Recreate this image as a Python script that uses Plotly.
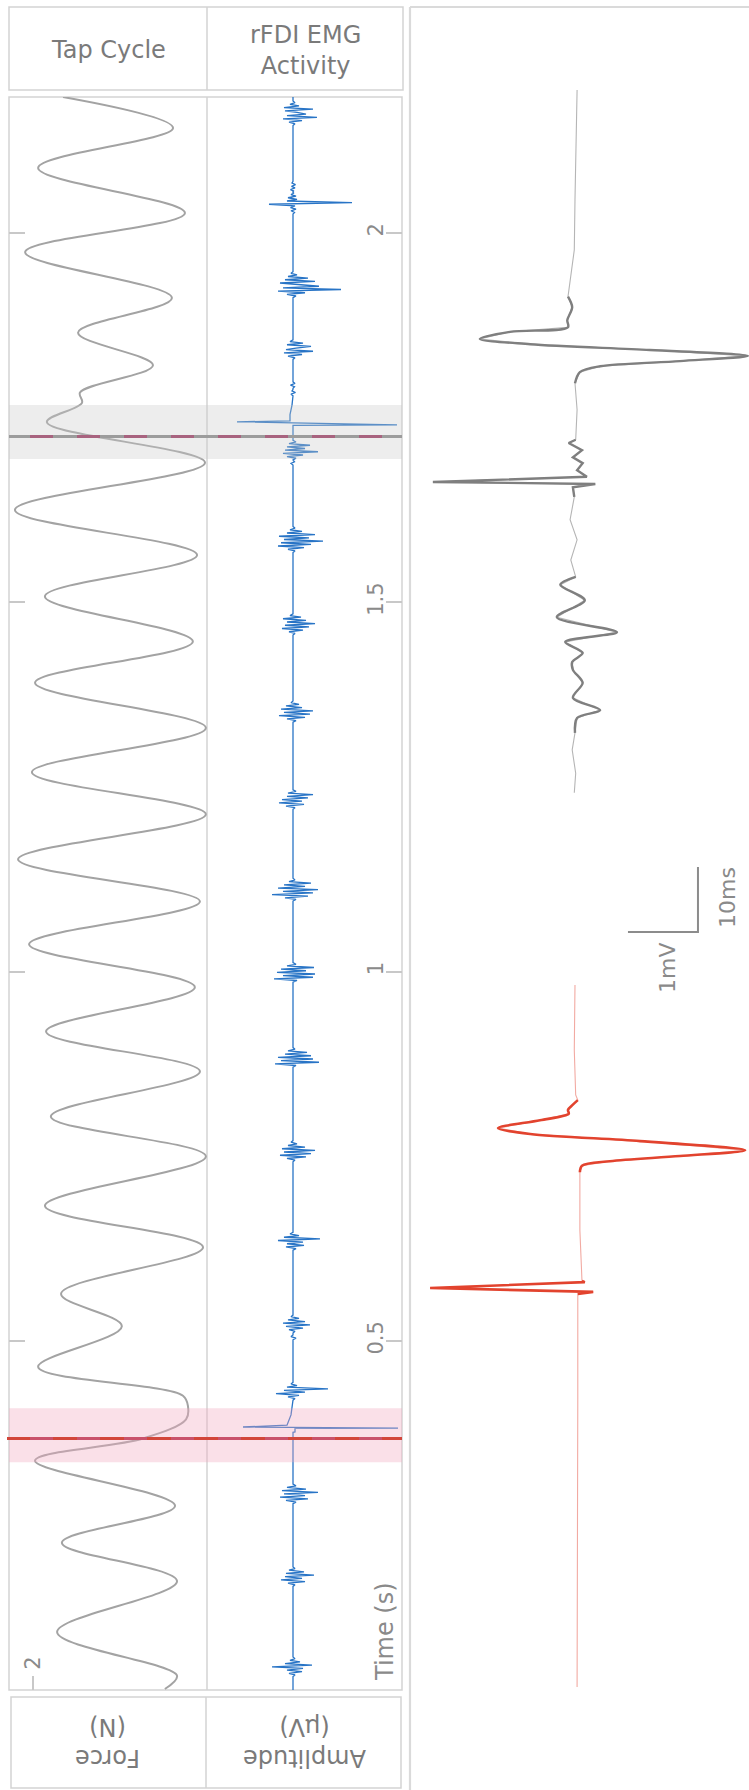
import plotly.graph_objects as go

W, H = 749, 1790

# ---------------- DATA ----------------
# Force trace (tap cycle): time (s), force (N) read at extrema / turning points
force_t = [2.184, 2.142, 2.088, 2.027, 1.974, 1.912, 1.865, 1.821, 1.784, 1.770,
           1.744, 1.689, 1.625, 1.564, 1.508, 1.447, 1.391, 1.330, 1.270, 1.213,
           1.152, 1.095, 1.037, 0.979, 0.919, 0.865, 0.804, 0.750, 0.683, 0.627,
           0.564, 0.520, 0.465, 0.426, 0.411, 0.394, 0.368, 0.338, 0.277, 0.227,
           0.175, 0.106, 0.047, 0.029]
force_n = [3.06, 6.95, 2.18, 7.37, 1.72, 6.91, 3.59, 6.24, 3.66, 3.73,
           2.49, 8.08, 1.36, 7.80, 2.42, 7.65, 2.07, 8.11, 1.96, 8.11,
           1.47, 7.90, 1.86, 7.72, 2.46, 7.90, 2.63, 8.11, 2.42, 8.01,
           2.99, 5.14, 2.18, 7.30, 7.48, 7.41, 5.89, 2.07, 7.02, 3.02,
           7.09, 2.85, 7.09, 6.66]

# EMG bursts: centre time (s) and amplitude samples (uV)
emg_dt = 0.0022
burst_centers = [2.162, 2.062, 2.041, 1.930, 1.842, 1.794, 1.784, 1.706, 1.689,
                 1.585, 1.470, 1.352, 1.233, 1.111, 0.999, 0.884, 0.757, 0.635,
                 0.523, 0.505, 0.432, 0.293, 0.181, 0.059]
burst_amps = [
    [20, -40, 90, -100, 240, -60, 130, 40, -80, 200, -90, 60, -30, 20],
    [10, -25, 20, -15, 25, -10],
    [15, -20, 30, -25, 20, -240, 590, -60, 40, -50, 30, -20, 10],
    [30, -60, 120, -150, 480, -100, 260, 60, -130, 220, -80, 150, -50, 40, -20],
    [20, -50, 90, -90, 200, -70, 30, 180, -60, 100, -30],
    [15, -25, 20],
    [-20, 25, -10],
    [30, -60, 100, -100, 250, -80, 120, -60, 170, -40, 30],
    [-20, 15],
    [20, -50, 110, -150, 180, -120, 300, -90, 160, -140, 220, -60, 90, -30, 20],
    [20, -40, 100, -110, 160, -80, 220, -60, 130, -100, 80, -30],
    [30, -60, 120, -140, 170, -90, 200, -120, 90, -70, 60, -20],
    [20, -70, 110, -140, 90, -110, 150, -60, 200, -50, 30],
    [30, -80, 150, -210, 200, -100, 250, -150, 120, -90, 180, -40, 20],
    [40, -190, 200, -100, 220, -160, 130, -120, 210, -60, 30],
    [30, -180, 260, -120, 200, -150, 180, -80, 140, -50, 20],
    [20, -60, 130, -130, 180, -90, 220, -110, 120, -50, 40, -20],
    [30, -70, 110, -60, 100, -150, 270, -90, 60, -30],
    [20, -40, 100, -70, 170, -100, 120, -50, 60, -20],
    [30, -20],
    [20, -50, 60, -170, 120, -90, 350, -60, 40, -20],
    [30, -70, 150, -130, 120, -90, 250, -110, 130, -60, 30],
    [20, -50, 120, -120, 90, -80, 210, -70, 110, -40, 20],
    [20, -40, 90, -60, 100, -210, 190, -80, 70, -30, 20],
]
# TMS stimulus artefacts in the EMG (time s, amplitude uV)
artifact_t = [1.7670, 1.7540, 1.7455, 1.7443, 1.7403, 1.7395,
              0.4000, 0.3860, 0.3836, 0.3822, 0.3818, 0.3770, 0.3765]
artifact_v = [-10, -30, -30, -560, 1040, 0,
              -20, -60, -500, 1050, 20, 20, 0]

# Stimulus times (s) and highlighted windows (s)
stim_times = [1.7245, 0.368]
stim_band_lo = [1.694, 0.336]
stim_band_hi = [1.767, 0.409]

# MEPs: time re. stimulus (ms), amplitude (mV)
mep_gray_t = [60.3, 51.1, 43.4, 35.7, 28.5, 26.9, 24.9, 23.8, 23.1, 22.0, 21.2, 20.3,
              19.4, 18.6, 17.8, 16.9, 15.2, 11.1, 6.5, 6.0, 4.9, 3.8, 2.9, 1.8, 0.8,
              0.0, -0.3, -0.8, -2.3, -5.8, -8.9, -12.0, -14.6, -15.8, -18.2, -20.8,
              -23.1, -24.6, -26.3, -27.7, -28.9, -30.9, -33.2, -35.1, -36.3, -38.6,
              -41.2, -44.8, -47.8]
mep_gray_v = [0.03, 0.01, 0.0, -0.01, -0.10, -0.04, -0.11, -0.10, -0.93, -1.36, -0.64, 1.07,
              2.47, 1.50, 0.36, 0.07, 0.0, 0.03, 0.01, -0.09, 0.10, -0.03, 0.11, 0.03, 0.17,
              -2.03, 0.29, -0.03, -0.01, -0.07, 0.03, -0.06, 0.01, -0.21, 0.14, -0.26,
              0.60, -0.14, 0.11, -0.04, -0.03, 0.11, -0.03, 0.36, 0.03, 0.0,
              -0.04, 0.01, -0.01]
mep_red_t = [46.6, 36.6, 29.7, 28.9, 28.2, 27.4, 26.8, 25.8, 24.6, 23.7, 22.6, 21.2,
             20.3, 19.5, 18.8, 17.8, 8.9, 1.1, 0.9, 0.0, -0.6, -0.9, -17.2, -40.3, -61.4]
mep_red_v = [0.0, -0.01, 0.01, 0.04, -0.03, -0.10, -0.09, -0.50, -1.10, -0.64, 0.93, 2.43,
             1.50, 0.50, 0.10, 0.07, 0.07, 0.10, 0.14, -2.07, 0.26, 0.04, 0.04, 0.03, 0.03]
scale_ms = 10
scale_mv = 1

tick_vals = [0.5, 1, 1.5, 2]
tick_text = ["0.5", "1", "1.5", "2"]

# ---------------- helpers ----------------
def X(px):
    return px / W

def Y(px):
    return 1 - px / H

FONT = "DejaVu Sans"
TXT = "#7a7a7a"
FRAME = "#d3d3d3"

# Build EMG series
pts = []
for c, amps in zip(burst_centers, burst_amps):
    n = len(amps)
    for i, a in enumerate(amps):
        pts.append((c + (i - (n - 1) / 2) * emg_dt, a))
    pts.append((c - ((n - 1) / 2 + 1) * emg_dt, 0))
    pts.append((c + ((n - 1) / 2 + 1) * emg_dt, 0))
pts += list(zip(artifact_t, artifact_v))
pts += [(0.0276, 0), (2.184, 0)]
pts.sort(key=lambda p: p[0])
emg_t = [p[0] for p in pts]
emg_v = [p[1] for p in pts]

fig = go.Figure()

# Force trace
fig.add_trace(go.Scatter(x=force_n, y=force_t, mode="lines", xaxis="x", yaxis="y",
                         line=dict(color="#a3a3a3", width=2, shape="spline", smoothing=1.0),
                         hoverinfo="skip"))
# EMG trace
fig.add_trace(go.Scatter(x=emg_v, y=emg_t, mode="lines", xaxis="x2", yaxis="y2",
                         line=dict(color="#2874c6", width=1.3), hoverinfo="skip"))

# MEP traces: thin full trace + thick segments for response windows
def segment(ts, vs, lo, hi):
    xo, yo = [], []
    for t, v in zip(ts, vs):
        if lo <= t <= hi:
            xo.append(v); yo.append(t)
    return xo, yo

def add_mep(ts, vs, yax, thin_col, thick_col, thick_w, windows):
    fig.add_trace(go.Scatter(x=vs, y=ts, mode="lines", xaxis="x3", yaxis=yax,
                             line=dict(color=thin_col, width=1.1), hoverinfo="skip"))
    for lo, hi, shape in windows:
        sx, sy = segment(ts, vs, lo, hi)
        ln = dict(color=thick_col, width=thick_w, shape=shape)
        if shape == "spline":
            ln["smoothing"] = 0.9
        fig.add_trace(go.Scatter(x=sx, y=sy, mode="lines", xaxis="x3", yaxis=yax,
                                 line=ln, hoverinfo="skip"))

add_mep(mep_gray_t, mep_gray_v, "y3", "#b5b5b5", "#7f7f7f", 2.4,
        [(-38.7, -14.5, "spline"), (-2.4, 7.0, "linear"), (15.0, 29.0, "spline")])
add_mep(mep_red_t, mep_red_v, "y4", "#f2aaa2", "#e2432e", 2.6,
        [(-1.0, 1.2, "linear"), (17.5, 29.0, "spline")])

# scale bar (in the red MEP axes)
sb_v, sb_t = 1.757, 54.77
fig.add_trace(go.Scatter(x=[sb_v - scale_mv, sb_v, sb_v], y=[sb_t, sb_t, sb_t + scale_ms],
                         mode="lines", xaxis="x3", yaxis="y4",
                         line=dict(color="#8c8c8c", width=2), hoverinfo="skip"))

ydom = [Y(1690), Y(97)]
tickfont = dict(family=FONT, size=21, color="#8a8a8a")

fig.update_layout(
    width=W, height=H, margin=dict(l=0, r=0, t=0, b=0),
    paper_bgcolor="white", plot_bgcolor="white", showlegend=False,
    xaxis=dict(domain=[X(9), X(207)], range=[1.15, 8.15], anchor="y",
               showgrid=False, zeroline=False, showline=False,
               ticks="inside", ticklen=14, tickcolor="#c8c8c8", tickwidth=1.5,
               tickvals=[2], ticktext=["2"], tickangle=-90,
               ticklabelposition="inside", tickfont=tickfont),
    xaxis2=dict(domain=[X(207), X(402)], range=[-860, 1090], anchor="y2",
                visible=False),
    yaxis=dict(domain=ydom, range=[0.0276, 2.184], anchor="x", side="left",
               showgrid=False, zeroline=False, showline=False,
               ticks="inside", ticklen=16, tickcolor="#c8c8c8", tickwidth=1.5,
               tickvals=tick_vals, showticklabels=False),
    yaxis2=dict(domain=ydom, range=[0.0276, 2.184], anchor="x2", side="right",
                matches="y", showgrid=False, zeroline=False, showline=False,
                ticks="inside", ticklen=16, tickcolor="#c8c8c8", tickwidth=1.5,
                tickvals=tick_vals, ticktext=tick_text, tickangle=-90,
                ticklabelposition="inside", tickfont=tickfont),
    xaxis3=dict(domain=[X(410), 1.0], range=[-2.357, 2.486], anchor="y3", visible=False),
    yaxis3=dict(domain=[Y(830), Y(60)], range=[-53.54, 64.92], anchor="x3", visible=False),
    yaxis4=dict(domain=[Y(1720), Y(840)], range=[-66.46, 68.92], anchor="x3", visible=False),
)

shapes = []
def rect(x0, y0, x1, y1, color=FRAME, width=1.5):
    shapes.append(dict(type="rect", xref="paper", yref="paper", x0=X(x0), x1=X(x1),
                       y0=Y(y0), y1=Y(y1), line=dict(color=color, width=width),
                       fillcolor="rgba(0,0,0,0)", layer="below"))
def hline_px(x0, x1, y, color=FRAME, width=1.5):
    shapes.append(dict(type="line", xref="paper", yref="paper", x0=X(x0), x1=X(x1),
                       y0=Y(y), y1=Y(y), line=dict(color=color, width=width), layer="below"))
def vline_px(x, y0, y1, color=FRAME, width=1.5):
    shapes.append(dict(type="line", xref="paper", yref="paper", x0=X(x), x1=X(x),
                       y0=Y(y0), y1=Y(y1), line=dict(color=color, width=width), layer="below"))

# header boxes / frames
rect(9, 7, 403, 90); vline_px(207, 7, 90)
rect(9, 97, 402, 1690); vline_px(207, 97, 1690)
rect(11, 1697, 401, 1788); vline_px(206, 1697, 1788)
vline_px(410, 7, 1790, color="#dadada", width=2.2)
hline_px(410, 760, 7, color="#dadada", width=2.2)

# stimulus windows (drawn above traces, semi-transparent)
band_cols = ["rgba(200,200,200,0.33)", "rgba(240,170,190,0.36)"]
for lo, hi, col in zip(stim_band_lo, stim_band_hi, band_cols):
    shapes.append(dict(type="rect", xref="paper", yref="y", x0=X(9), x1=X(402),
                       y0=lo, y1=hi, fillcolor=col, line=dict(width=0), layer="above"))
# stimulus lines
line_cols = ["#9c9c9c", "#d2463a"]
dash_cols = ["#a8637f", "#c9526b"]
x_starts = [9, 7]
for st, lc, dc, xs in zip(stim_times, line_cols, dash_cols, x_starts):
    shapes.append(dict(type="line", xref="paper", yref="y", x0=X(xs), x1=X(402),
                       y0=st, y1=st, line=dict(color=lc, width=3), layer="above"))
    shapes.append(dict(type="line", xref="paper", yref="y", x0=X(30), x1=X(402),
                       y0=st, y1=st, line=dict(color=dc, width=3, dash="23px,24px"),
                       layer="above"))
fig.update_layout(shapes=shapes)

ann = []
def text(s, x, y, size=23, angle=0, color=TXT):
    ann.append(dict(text=s, x=X(x), y=Y(y), xref="paper", yref="paper", showarrow=False,
                    xanchor="center", yanchor="middle", textangle=angle,
                    font=dict(family=FONT, size=size, color=color)))
text("Tap Cycle", 108, 50, size=24)
text("rFDI EMG<br>Activity", 305, 50, size=24)
text("Force<br>(N)", 108, 1743, size=24, angle=180)
text("Amplitude<br>(μV)", 305, 1743, size=24, angle=180)
text("Time (s)", 385, 1631, size=24, angle=-90, color="#8a8a8a")
text("10ms", 727, 898, size=22, angle=-90, color="#8a8a8a")
text("1mV", 667, 968, size=22, angle=-90, color="#8a8a8a")
fig.update_layout(annotations=ann)

fig.write_html("out.html")
